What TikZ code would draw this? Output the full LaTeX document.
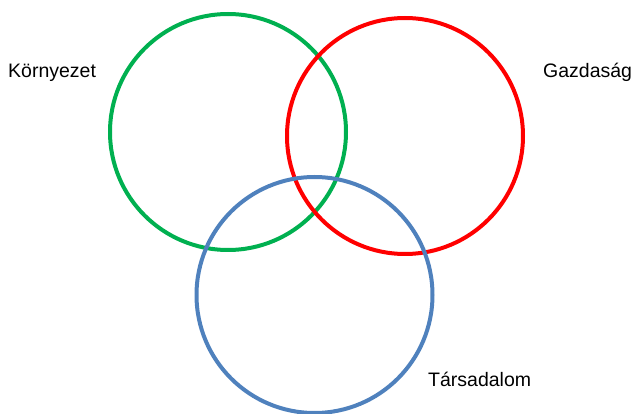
\documentclass[tikz,border=0pt]{standalone}
\usepackage{fontspec}
\setmainfont{Liberation Sans}
\definecolor{cgreen}{HTML}{00B050}
\definecolor{cred}{HTML}{FF0000}
\definecolor{cblue}{HTML}{4F81BD}
\begin{document}
\begin{tikzpicture}[x=1pt,y=-1pt,
  ring/.style={line width=4pt},
  lbl/.style={anchor=base west,inner sep=0pt,font=\fontsize{19.5}{22}\selectfont}]
\useasboundingbox (0,0) rectangle (633,414);
\draw[ring,cgreen] (228,132) circle (118);
\draw[ring,cred] (405,136) circle (118);
\draw[ring,cblue] (314.5,295) circle (118);
\node[lbl] (env) at (8,78) {Környezet};
\node[lbl] (eco) at (543,78) {Gazdaság};
\node[lbl] (soc) at (428,387) {Társadalom};
\end{tikzpicture}
\end{document}
